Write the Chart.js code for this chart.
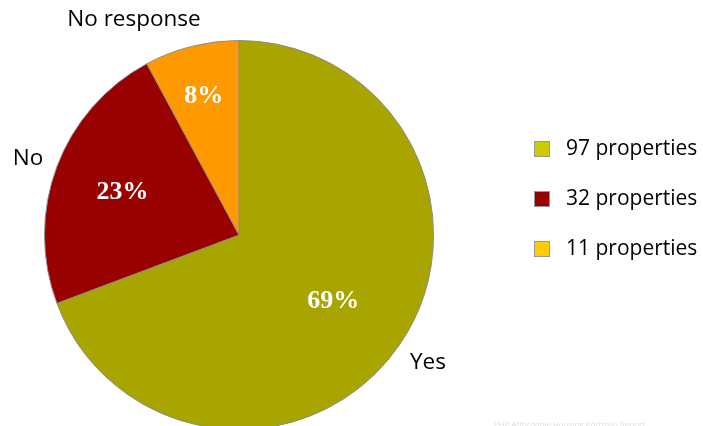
<!DOCTYPE html>
<html>
<head>
<meta charset="utf-8">
<script src="https://cdn.jsdelivr.net/npm/chart.js@4"></script>
<style>
  html, body { margin:0; padding:0; background:#fff; overflow:hidden; }
  #wrap { position:relative; width:703px; height:426px; overflow:hidden; }
  canvas { display:block; }
</style>
</head>
<body>
<div id="wrap"><canvas id="pie" width="703" height="470"></canvas></div>
<script>
const categories   = ['Yes', 'No', 'No response'];
const counts       = [97, 32, 11];
const sliceColors  = ['#A8A400', '#990000', '#FF9900'];
const legendLabels = ['97 properties', '32 properties', '11 properties'];
const legendColors = ['#CCCC00', '#990000', '#FFCC00'];
// how far out (fraction of radius) each % label sits
const labelDepth   = [0.59, 0.64, 0.74];

const total = counts.reduce((a,b) => a+b, 0);

const labelsPlugin = {
    id: 'sliceLabels',
    afterDatasetsDraw(chart) {
        const ctx = chart.ctx;
        const arcs = chart.getDatasetMeta(0).data;
        ctx.save();
        arcs.forEach((arc, i) => {
            const mid = (arc.startAngle + arc.endAngle) / 2;
            const r = arc.outerRadius * labelDepth[i];
            const pct = Math.round(counts[i] / total * 100) + '%';
            ctx.fillStyle = '#fff';
            ctx.font = 'bold 26px "Liberation Serif", "DejaVu Serif", serif';
            ctx.textAlign = 'center'; ctx.textBaseline = 'middle';
            ctx.fillText(pct, arc.x + Math.cos(mid)*r, arc.y + Math.sin(mid)*r + 1);
        });
        // category names outside the pie
        ctx.fillStyle = '#000';
        ctx.font = '22.5px "Open Sans", Lato, sans-serif';
        ctx.textAlign = 'center';
        ctx.fillText(categories[0], 428, 363);
        ctx.fillText(categories[1], 28, 159);
        ctx.fillText(categories[2], 134, 20);

        // legend
        legendLabels.forEach((t, i) => {
            const y = 149 + i*50;
            ctx.fillStyle = legendColors[i];
            ctx.fillRect(534, y-8, 16, 16);
            ctx.strokeStyle = '#999'; ctx.lineWidth = 1;
            ctx.strokeRect(534.5, y-7.5, 15, 15);
            ctx.fillStyle = '#000';
            ctx.textAlign = 'left';
            ctx.font = '21px "Open Sans", Lato, sans-serif';
            ctx.fillText(t, 566, y);
        });

        ctx.fillStyle = '#e0e0e0';
        ctx.font = '8px "Open Sans", sans-serif';
        ctx.fillText('PHP Affordable Housing Portfolio Report', 494, 425);
        ctx.restore();
    }
};

new Chart(document.getElementById('pie').getContext('2d'), {
    type: 'pie',
    data: { labels: categories,
            datasets: [{ data: counts, backgroundColor: sliceColors,
                         borderColor: '#8c8c8c', borderWidth: 1 }] },
    options: { responsive:false, animation:false,
        layout: { padding: { left:44, right:269, top:40, bottom:40 } },
        plugins: { legend:{display:false}, tooltip:{enabled:false} } },
    plugins: [labelsPlugin]
});
</script>
</body>
</html>
